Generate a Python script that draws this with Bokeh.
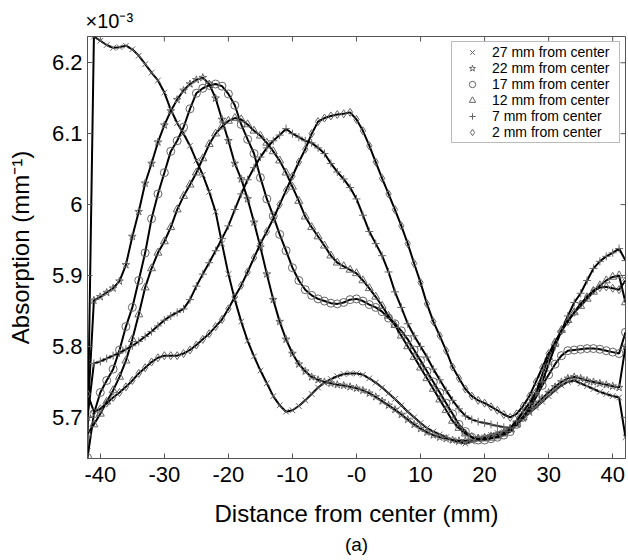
from bokeh.plotting import figure
from bokeh.models import Range1d, FixedTicker, Legend, LegendItem, Title
from bokeh.embed import file_html
from bokeh.resources import INLINE

# ---------------- data ----------------
x_mm = list(range(-42, 43))

abs_27mm = [
    5.660, 6.237, 6.231, 6.225, 6.221, 6.222, 6.224, 6.219, 6.210, 6.198,   # -42..-33
    6.186, 6.175, 6.158, 6.134, 6.115, 6.100, 6.083, 6.062, 6.042, 6.018,   # -32..-23
    5.990, 5.945, 5.902, 5.866, 5.835, 5.808, 5.786, 5.766, 5.748, 5.730,   # -22..-13
    5.717, 5.708, 5.710, 5.716, 5.724, 5.733, 5.742, 5.749, 5.754, 5.758,   # -12..-3
    5.761, 5.762, 5.762, 5.760, 5.755, 5.749, 5.742, 5.734, 5.726, 5.717,   # -2..7
    5.708, 5.700, 5.692, 5.685, 5.680, 5.676, 5.672, 5.668, 5.665, 5.663,   # 8..17
    5.666, 5.669, 5.672, 5.675, 5.678, 5.680, 5.683, 5.690, 5.698, 5.706,   # 18..27
    5.714, 5.722, 5.730, 5.738, 5.745, 5.750, 5.752, 5.748, 5.744, 5.740,   # 28..37
    5.736, 5.733, 5.730, 5.728, 5.672,                                      # 38..42
]
abs_22mm = [
    5.700, 5.865, 5.870, 5.876, 5.882, 5.892, 5.915, 5.955, 5.990, 6.030,
    6.058, 6.088, 6.112, 6.132, 6.148, 6.161, 6.170, 6.176, 6.179, 6.170,
    6.150, 6.120, 6.090, 6.058, 6.036, 6.008, 5.975, 5.940, 5.902, 5.866,
    5.835, 5.810, 5.790, 5.775, 5.765, 5.757, 5.753, 5.750, 5.748, 5.746,
    5.745, 5.743, 5.741, 5.738, 5.734, 5.729, 5.723, 5.717, 5.711, 5.704,
    5.697, 5.690, 5.684, 5.679, 5.675, 5.672, 5.670, 5.668, 5.667, 5.667,
    5.668, 5.670, 5.672, 5.674, 5.676, 5.679, 5.684, 5.692, 5.700, 5.709,
    5.718, 5.727, 5.735, 5.743, 5.750, 5.755, 5.757, 5.755, 5.752, 5.750,
    5.748, 5.746, 5.744, 5.742, 5.800,
]
abs_17mm = [
    5.643, 5.705, 5.735, 5.752, 5.768, 5.795, 5.828, 5.855, 5.893, 5.932,
    5.980, 6.015, 6.045, 6.075, 6.090, 6.109, 6.135, 6.157, 6.164, 6.168,
    6.170, 6.167, 6.156, 6.140, 6.113, 6.092, 6.072, 6.038, 6.008, 5.984,
    5.958, 5.935, 5.911, 5.893, 5.880, 5.872, 5.867, 5.864, 5.861, 5.860,
    5.862, 5.866, 5.867, 5.864, 5.859, 5.855, 5.849, 5.840, 5.832, 5.822,
    5.810, 5.795, 5.780, 5.765, 5.750, 5.735, 5.720, 5.705, 5.690, 5.680,
    5.672, 5.668, 5.668, 5.670, 5.672, 5.675, 5.680, 5.690, 5.700, 5.712,
    5.728, 5.745, 5.760, 5.775, 5.787, 5.794, 5.795, 5.796, 5.797, 5.797,
    5.796, 5.794, 5.792, 5.790, 5.820,
]
abs_12mm = [
    5.677, 5.690, 5.705, 5.722, 5.738, 5.757, 5.780, 5.810, 5.845, 5.883,
    5.910, 5.932, 5.948, 5.968, 5.993, 6.012, 6.028, 6.045, 6.065, 6.085,
    6.100, 6.110, 6.118, 6.122, 6.120, 6.113, 6.104, 6.097, 6.087, 6.075,
    6.062, 6.045, 6.025, 6.005, 5.983, 5.968, 5.955, 5.942, 5.928, 5.918,
    5.913, 5.908, 5.903, 5.893, 5.882, 5.870, 5.857, 5.843, 5.830, 5.815,
    5.800, 5.785, 5.770, 5.755, 5.740, 5.725, 5.710, 5.695, 5.685, 5.677,
    5.672, 5.670, 5.670, 5.671, 5.673, 5.677, 5.683, 5.690, 5.700, 5.715,
    5.735, 5.760, 5.785, 5.805, 5.823, 5.837, 5.848, 5.857, 5.867, 5.877,
    5.886, 5.893, 5.898, 5.900, 5.862,
]
abs_7mm = [
    5.700, 5.776, 5.779, 5.783, 5.787, 5.791, 5.796, 5.801, 5.807, 5.814,
    5.821, 5.829, 5.837, 5.843, 5.848, 5.853, 5.866, 5.885, 5.902, 5.918,
    5.935, 5.952, 5.970, 5.993, 6.015, 6.035, 6.052, 6.067, 6.080, 6.090,
    6.098, 6.107, 6.100, 6.095, 6.090, 6.087, 6.080, 6.072, 6.058, 6.046,
    6.036, 6.024, 6.008, 5.985, 5.962, 5.945, 5.928, 5.905, 5.877, 5.855,
    5.832, 5.815, 5.800, 5.785, 5.768, 5.753, 5.738, 5.724, 5.712, 5.702,
    5.697, 5.694, 5.692, 5.690, 5.688, 5.686, 5.685, 5.695, 5.708, 5.720,
    5.735, 5.750, 5.775, 5.800, 5.822, 5.843, 5.862, 5.875, 5.893, 5.910,
    5.920, 5.927, 5.932, 5.938, 5.921,
]
abs_2mm = [
    5.733, 5.708, 5.712, 5.720, 5.728, 5.735, 5.743, 5.752, 5.762, 5.770,
    5.778, 5.784, 5.787, 5.787, 5.787, 5.790, 5.795, 5.802, 5.810, 5.818,
    5.828, 5.838, 5.853, 5.870, 5.886, 5.905, 5.925, 5.945, 5.962, 5.980,
    6.000, 6.020, 6.040, 6.060, 6.078, 6.100, 6.117, 6.122, 6.125, 6.127,
    6.128, 6.130, 6.120, 6.104, 6.083, 6.060, 6.037, 6.015, 5.993, 5.970,
    5.945, 5.917, 5.890, 5.860, 5.835, 5.815, 5.794, 5.771, 5.755, 5.740,
    5.730, 5.724, 5.720, 5.715, 5.710, 5.704, 5.700, 5.705, 5.716, 5.730,
    5.750, 5.770, 5.790, 5.806, 5.822, 5.835, 5.848, 5.860, 5.870, 5.879,
    5.883, 5.884, 5.882, 5.880, 5.893,
]

series_values = [abs_27mm, abs_22mm, abs_17mm, abs_12mm, abs_7mm, abs_2mm]
series_labels = ["27 mm from center", "22 mm from center", "17 mm from center",
                 "12 mm from center", "7 mm from center", "2 mm from center"]
series_markers = ["x", "star", "circle", "triangle", "cross", "diamond"]

x_ticks = [-40, -30, -20, -10, 0, 10, 20, 30, 40]
x_tick_labels = ["-40", "-30", "-20", "-10", "-0", "10", "20", "30", "40"]
y_ticks = [5.7, 5.8, 5.9, 6.0, 6.1, 6.2]
y_tick_labels = ["5.7", "5.8", "5.9", "6", "6.1", "6.2"]

X_MIN, X_MAX = -42, 42
Y_MIN, Y_MAX = 5.642, 6.237

# ---------------- figure ----------------
FONT = "Liberation Sans"
AXC = "#555555"
W, H = 628, 560
BL, BR, BT, BB = 87, 3, 36, 102

p = figure(width=W, height=H,
           x_range=Range1d(X_MIN, X_MAX), y_range=Range1d(Y_MIN, Y_MAX),
           output_backend="svg", toolbar_location=None,
           min_border_left=BL, min_border_right=BR,
           min_border_top=BT, min_border_bottom=BB,
           title="×10⁻³")
p.grid.visible = False
p.outline_line_color = AXC
p.outline_line_width = 1

p.title.align = "left"
p.title.offset = -2
p.title.text_font = FONT
p.title.text_font_size = "20px"
p.title.text_font_style = "normal"
p.title.text_color = "black"
p.title.standoff = 9

renderers = []
for vals, mk in zip(series_values, series_markers):
    p.line(x_mm, vals, line_color="black", line_width=2)
    r = p.scatter(x_mm, vals, marker=mk, size=8, fill_color=None,
                  line_color="#666666", line_width=1)
    renderers.append(r)

# inward tick marks on the top and right edges of the box
frame_w = W - BL - BR
frame_h = H - BT - BB
tick_px = 5
dy = (Y_MAX - Y_MIN) * tick_px / frame_h
dx = (X_MAX - X_MIN) * tick_px / frame_w
p.segment(x0=x_ticks, y0=[Y_MAX] * len(x_ticks), x1=x_ticks, y1=[Y_MAX - dy] * len(x_ticks),
          line_color=AXC, line_width=1)
p.segment(x0=[X_MAX] * len(y_ticks), y0=y_ticks, x1=[X_MAX - dx] * len(y_ticks), y1=y_ticks,
          line_color=AXC, line_width=1)

# axes
for ax in (p.xaxis[0], p.yaxis[0]):
    ax.major_tick_in = tick_px
    ax.major_tick_out = 0
    ax.minor_tick_line_color = None
    ax.axis_line_color = AXC
    ax.major_tick_line_color = AXC
    ax.major_label_text_font = FONT
    ax.major_label_text_font_size = "22px"
    ax.major_label_text_color = "black"
    ax.axis_label_text_font = FONT
    ax.axis_label_text_font_size = "24px"
    ax.axis_label_text_font_style = "normal"
    ax.axis_label_text_color = "black"

p.xaxis.ticker = FixedTicker(ticks=x_ticks)
p.xaxis.major_label_overrides = dict(zip(x_ticks, x_tick_labels))
p.xaxis.major_label_standoff = 8
p.xaxis.axis_label = "Distance from center (mm)"
p.xaxis.axis_label_standoff = 15

p.yaxis.ticker = FixedTicker(ticks=y_ticks)
p.yaxis.major_label_overrides = dict(zip(y_ticks, y_tick_labels))
p.yaxis.major_label_standoff = 5
p.yaxis.axis_label = "Absorption (mm⁻¹)"
p.yaxis.axis_label_standoff = 15

# caption below
cap = Title(text="(a)", align="center", text_font=FONT, text_font_size="19px",
            text_font_style="normal", text_color="black", standoff=4)
p.add_layout(cap, "below")

# legend (markers only)
items = [LegendItem(label=lab, renderers=[r]) for lab, r in zip(series_labels, renderers)]
legend = Legend(items=items, location="top_right", margin=5, padding=2, spacing=0,
                label_height=16, glyph_height=16, glyph_width=36, label_standoff=2,
                label_width=125,
                label_text_font=FONT, label_text_font_size="14px", label_text_color="black",
                border_line_color="#777777", border_line_width=1,
                background_fill_color="white", background_fill_alpha=1.0)
p.add_layout(legend)

open("out.html", "w").write(file_html(p, INLINE))
